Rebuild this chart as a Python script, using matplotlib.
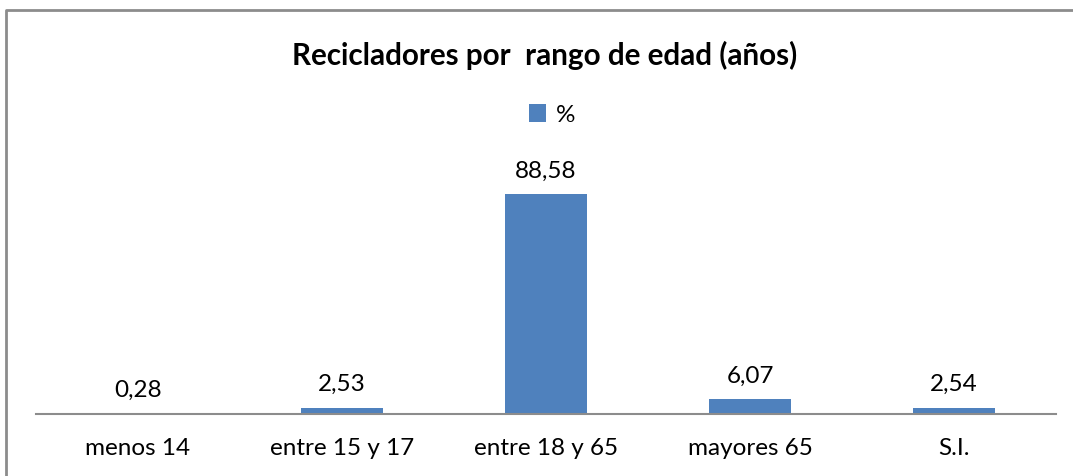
import matplotlib.pyplot as plt
from matplotlib.lines import Line2D

categories = ['menos 14', 'entre 15 y 17', 'entre 18 y 65', 'mayores 65', 'S.I.']
values = [0.28, 2.53, 88.58, 6.07, 2.54]
labels = ['0,28', '2,53', '88,58', '6,07', '2,54']
series_name = '%'
title = 'Recicladores por  rango de edad (años)'

color = '#4F81BD'
font = 'Lato'

fig = plt.figure(figsize=(10.73, 4.76), dpi=100)
ax = fig.add_axes([36/1073, 62/476, 1020/1073, 248/476])

x = range(len(categories))
bars = ax.bar(x, values, width=0.4, color=color, label=series_name, zorder=2)
for xi, v, lab in zip(x, values, labels):
    ax.annotate(lab, (xi, v), xytext=(0, 9), textcoords='offset points',
                ha='center', va='bottom', fontsize=17.5, family=font)

ax.set_xlim(-0.5, len(categories) - 0.5)
ax.set_ylim(0, 100)
ax.set_xticks(list(x))
ax.set_xticklabels(categories, fontsize=17.5, family=font)
ax.tick_params(axis='x', length=0, pad=17)
ax.set_yticks([])
for s in ['top', 'right', 'left']:
    ax.spines[s].set_visible(False)
ax.spines['bottom'].set_color('#8c8c8c')
ax.spines['bottom'].set_linewidth(1.5)

fig.text(0.508, 1 - 55/476, title, ha='center', va='center',
         fontsize=21.3, fontweight='bold', family=font)

leg = fig.legend(loc='center', bbox_to_anchor=(0.515, 1 - 115/476), frameon=False,
                 prop={'family': font, 'size': 17.5}, handlelength=0.7, handleheight=0.7,
                 handletextpad=0.4)

# outer chart border (only top and left are visible)
fig.lines.append(Line2D([6/1073, 6/1073, 1.0], [0.0, 1 - 10/476, 1 - 10/476],
                        transform=fig.transFigure, color='#8c8c8c', linewidth=2))

fig.savefig('out.png', dpi=100)
